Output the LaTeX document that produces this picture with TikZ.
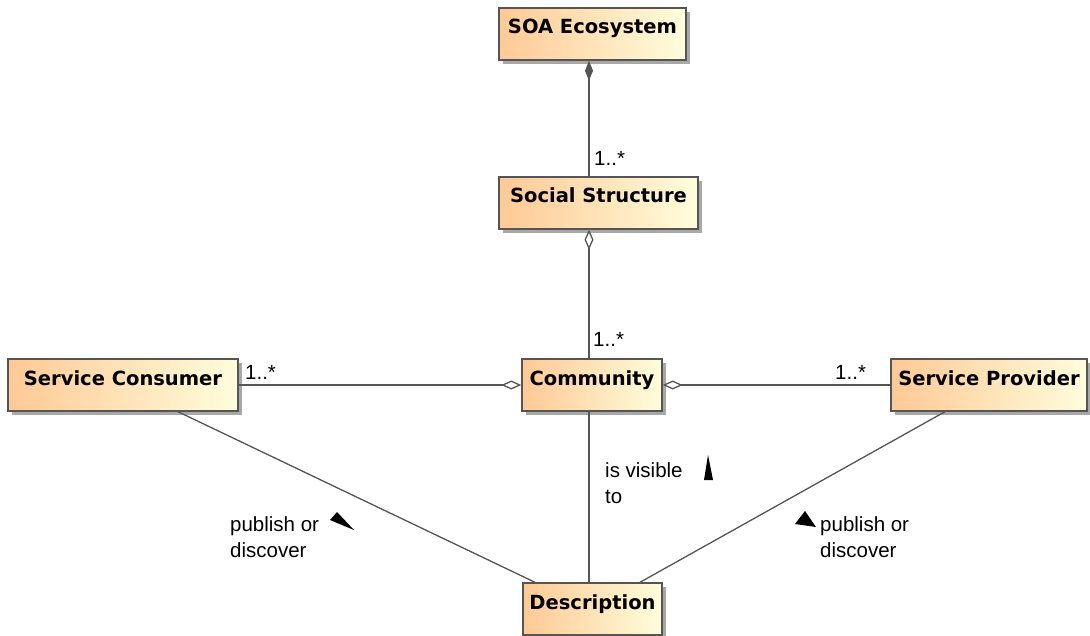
\documentclass[tikz,border=0pt]{standalone}
\usepackage{fontspec}
\setmainfont{Liberation Sans}
\newfontfamily\titlefont{DejaVu Sans}
\usepackage{tikz}
\usetikzlibrary{
  arrows.meta,
  calc,
  shadows
}
\definecolor{classleft}{HTML}{FFC995}
\definecolor{classright}{HTML}{FFFDDC}
\definecolor{edgegray}{HTML}{555555}
\definecolor{shadowgray}{HTML}{A8A8A8}

\begin{document}
\begin{tikzpicture}[x=1pt, y=-1pt,
  cls/.style={draw=edgegray, line width=1.4pt,
              left color=classleft, right color=classright,
              drop shadow={shadow xshift=4pt, shadow yshift=-4pt,
                           fill=shadowgray, opacity=1},
              inner xsep=0pt, inner ysep=0pt,
              text height=26pt, text depth=26pt,
              font=\titlefont\bfseries\fontsize{19.5}{23}\selectfont},
  assoc/.style={draw=edgegray, line width=1.3pt},
  agg/.style={{Diamond[open, length=20pt, width=9pt, fill=white]}-},
  comp/.style={{Diamond[length=20pt, width=8pt]}-},
  mult/.style={font=\fontsize{20.5}{26}\selectfont, inner sep=0pt,
               anchor=base west},
  role/.style={font=\fontsize{20.5}{26}\selectfont, inner sep=0pt,
               anchor=north west, align=left},
  dirmark/.style={fill=black},
]
  \useasboundingbox (0,0) rectangle (1090,636);

  % Classes
  \node[cls, minimum width=187pt] (soa) at (592.5, 34) {SOA Ecosystem};
  \node[cls, minimum width=199pt] (social) at (598.5, 203) {Social Structure};
  \node[cls, minimum width=230pt] (consumer) at (123, 385) {Service Consumer};
  \node[cls, minimum width=140pt] (community) at (592, 385) {Community};
  \node[cls, minimum width=196pt] (provider) at (989, 385) {Service Provider};
  \node[cls, minimum width=139pt] (description) at (592.5, 609) {Description};

  \coordinate (axis) at (589, 0);

  % Associations
  \draw[assoc, comp] (soa.south -| axis) -- (social.north -| axis);
  \draw[assoc, agg] (social.south -| axis) -- (community.north -| axis);
  \draw[assoc, agg] (community.west) -- (consumer.east);
  \draw[assoc, agg] (community.east) -- (provider.west);
  \draw[assoc] ($(consumer.south)+(55,0)$) -- ($(description.north)+(-57.5,0)$);
  \draw[assoc] (community.south -| axis) -- (description.north -| axis);
  \draw[assoc] ($(provider.south)+(-44,0)$) -- ($(description.north)+(47.5,0)$);

  % Multiplicities
  \node[mult] (multsocial) at (594, 166) {1..*};
  \node[mult] (multcommunity) at (593, 347) {1..*};
  \node[mult] (multconsumer) at (245, 380) {1..*};
  \node[mult] (multprovider) at (835, 380) {1..*};

  % Association names and direction marks
  \node[role] (publeft) at (230, 516) {publish or\\discover};
  \node[role] (visible) at (605, 462) {is visible\\to};
  \node[role] (pubright) at (820, 516) {publish or\\discover};

  \fill[dirmark] (337, 512) -- (330, 520) -- (354, 530) -- cycle;
  \fill[dirmark] (708, 455) -- (704, 480) -- (713, 480) -- cycle;
  \fill[dirmark] (805, 511) -- (795, 524) -- (816, 527) -- cycle;

\end{tikzpicture}
\end{document}
